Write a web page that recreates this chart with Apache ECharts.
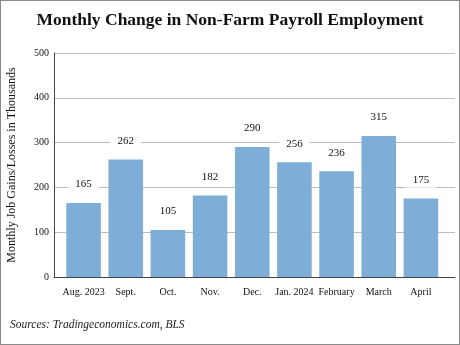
<!DOCTYPE html>
<html>
<head>
<meta charset="utf-8">
<script src="https://cdn.jsdelivr.net/npm/echarts@6/dist/echarts.min.js"></script>
<style>
  html, body { margin: 0; padding: 0; background: #fff; }
  #chart { width: 460px; height: 345px; box-sizing: border-box; border: 1px solid #8a8a8a; }
</style>
</head>
<body>
<div id="chart"></div>
<script>
// Monthly change in non-farm payroll employment (thousands)
const months = ['Aug. 2023', 'Sept.', 'Oct.', 'Nov.', 'Dec.', 'Jan. 2024', 'February', 'March', 'April'];
const jobGains = [165, 262, 105, 182, 290, 256, 236, 315, 175];
const yTicks = [0, 100, 200, 300, 400, 500];

const serif = '"Liberation Serif", "DejaVu Serif", serif';
const chart = echarts.init(document.getElementById('chart'));

const plotTop = 52, plotBottom = 67;

chart.setOption({
  animation: false,
  title: {
    text: 'Monthly Change in Non-Farm Payroll Employment',
    left: 'center',
    top: 5,
    textStyle: { fontFamily: serif, fontWeight: 'bold', fontSize: 17.5, color: '#111' }
  },
  graphic: [{
    type: 'text',
    left: 9,
    top: 318,
    style: {
      text: 'Sources: Tradingeconomics.com, BLS',
      font: 'italic 11.5px ' + serif,
      fill: '#222'
    }
  }],
  // grid 0: frame, gridlines and y ticks; grid 1: inset band for the bars and month labels
  grid: [
    { left: 53, right: 4, top: plotTop, bottom: plotBottom, outerBoundsMode: 'none', containLabel: false },
    { left: 61.5, right: 17, top: plotTop, bottom: plotBottom, outerBoundsMode: 'none', containLabel: false }
  ],
  xAxis: [
    {
      gridIndex: 0,
      type: 'value',
      min: 0, max: 1,
      axisLine: { show: true, onZero: false, lineStyle: { color: '#444', width: 1 } },
      axisTick: { show: false },
      axisLabel: { show: false },
      splitLine: { show: false }
    },
    {
      gridIndex: 1,
      type: 'category',
      data: months,
      axisLine: { show: false },
      axisTick: { show: false },
      axisLabel: { fontFamily: serif, fontSize: 10, color: '#111', margin: 10, interval: 0 }
    }
  ],
  yAxis: [
    {
      gridIndex: 0,
      type: 'value',
      min: yTicks[0],
      max: yTicks[yTicks.length - 1],
      interval: 100,
      name: 'Monthly Job Gains/Losses in Thousands',
      nameLocation: 'middle',
      nameGap: 36,
      nameTextStyle: { fontFamily: serif, fontSize: 12, color: '#111' },
      axisLine: { show: true, lineStyle: { color: '#444', width: 1 } },
      axisTick: { show: false },
      axisLabel: { fontFamily: serif, fontSize: 10, color: '#111', margin: 5 },
      splitLine: { lineStyle: { color: '#bdbdbd', width: 1 } }
    },
    {
      gridIndex: 1,
      type: 'value',
      min: yTicks[0],
      max: yTicks[yTicks.length - 1],
      interval: 100,
      show: false
    }
  ],
  series: [{
    type: 'bar',
    xAxisIndex: 1,
    yAxisIndex: 1,
    data: jobGains,
    barWidth: '82%',
    itemStyle: { color: '#7eaed8' },
    label: {
      show: true,
      position: 'top',
      distance: 11,
      fontFamily: serif,
      fontSize: 11,
      color: '#111',
      backgroundColor: '#fff',
      padding: [2, 7]
    }
  }]
});
</script>
</body>
</html>
